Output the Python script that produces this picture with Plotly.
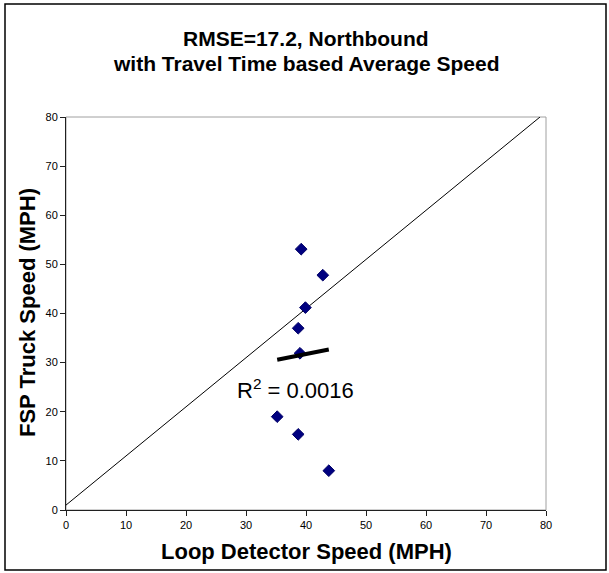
import numpy as np
import plotly.graph_objects as go

# Data
loop_speed = [39.2, 42.8, 39.9, 38.7, 39.0, 35.2, 38.7, 43.8]
fsp_speed = [53.1, 47.8, 41.2, 37.0, 31.9, 19.0, 15.4, 8.0]
ref_x = [0, 79]
ref_y = [1, 80]
r2_label = "R<sup>2</sup> = 0.0016"
title_lines = ["RMSE=17.2, Northbound", "with Travel Time based Average Speed"]
x_title = "Loop Detector Speed (MPH)"
y_title = "FSP Truck Speed (MPH)"

FONT = "Liberation Sans, Arial"
W, H = 609, 573
L, R, T, B = 66, 63, 117, 63
pw, ph = W - L - R, H - T - B

# Linear trendline from the data
slope, intercept = np.polyfit(loop_speed, fsp_speed, 1)
tx = [min(loop_speed), max(loop_speed)]
ty = [slope * v + intercept for v in tx]

fig = go.Figure()
fig.add_trace(go.Scatter(x=ref_x, y=ref_y, mode="lines",
                         line=dict(color="black", width=1), hoverinfo="skip"))
fig.add_trace(go.Scatter(x=loop_speed, y=fsp_speed, mode="markers",
                         marker=dict(symbol="diamond", size=9, color="#000080",
                                     line=dict(color="#000066", width=1))))
fig.add_trace(go.Scatter(x=tx, y=ty, mode="lines",
                         line=dict(color="black", width=4), hoverinfo="skip"))

def pxx(px):
    return (px - L) / pw

def pxy(py):
    return (H - B - py) / ph

shapes = [
    dict(type="rect", xref="paper", yref="paper", x0=0, y0=0, x1=1, y1=1,
         line=dict(color="#a0a0a0", width=1), layer="below"),
    dict(type="rect", xref="paper", yref="paper",
         x0=pxx(5), x1=pxx(606), y0=pxy(570), y1=pxy(4),
         line=dict(color="black", width=1.5), layer="below"),
]

annotations = [
    dict(x=38.2, y=24.6, xref="x", yref="y", text=r2_label, showarrow=False,
         font=dict(family=FONT, size=22, color="black")),
    dict(x=pxx(306), y=pxy(38.5), xref="paper", yref="paper",
         text="<b>" + title_lines[0] + "</b>", showarrow=False,
         xanchor="center", yanchor="middle",
         font=dict(family=FONT, size=21, color="black")),
    dict(x=pxx(306), y=pxy(64), xref="paper", yref="paper",
         text="<b>" + title_lines[1] + "</b>", showarrow=False,
         xanchor="center", yanchor="middle",
         font=dict(family=FONT, size=21, color="black")),
    dict(x=pxx(306), y=pxy(551), xref="paper", yref="paper",
         text="<b>" + x_title + "</b>", showarrow=False,
         xanchor="center", yanchor="middle",
         font=dict(family=FONT, size=22, color="black")),
    dict(x=pxx(27), y=pxy(313), xref="paper", yref="paper",
         text="<b>" + y_title + "</b>", showarrow=False, textangle=-90,
         xanchor="center", yanchor="middle",
         font=dict(family=FONT, size=22, color="black")),
]

axis_common = dict(range=[0, 80], dtick=10, showgrid=False, zeroline=False,
                   showline=True, linecolor="#202020", linewidth=1,
                   ticks="outside", ticklen=5, tickcolor="#202020",
                   tickfont=dict(family=FONT, size=11, color="black"))

fig.update_layout(
    width=W, height=H,
    margin=dict(l=L, r=R, t=T, b=B),
    paper_bgcolor="white", plot_bgcolor="white",
    showlegend=False,
    shapes=shapes,
    annotations=annotations,
    xaxis=dict(**axis_common),
    yaxis=dict(**axis_common),
)

fig.write_html("out.html")
